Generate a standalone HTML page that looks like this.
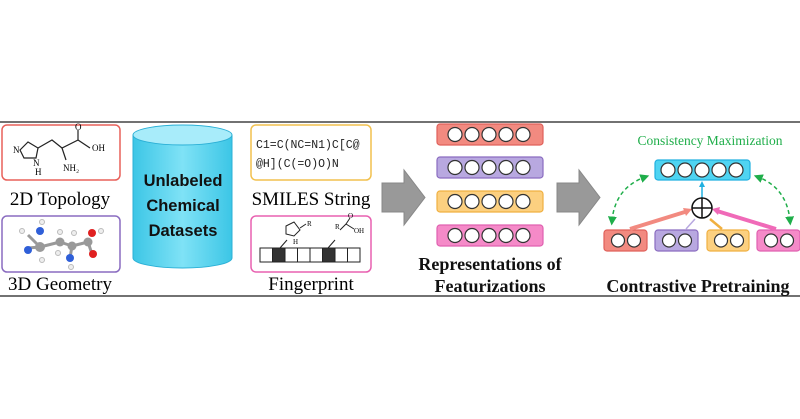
<!DOCTYPE html>
<html><head><meta charset="utf-8"><style>
html,body{margin:0;padding:0;background:#fff;}
svg{display:block;}
.ser{font-family:"Liberation Serif",serif;}
</style></head><body>
<svg width="800" height="419" viewBox="0 0 800 419" xmlns="http://www.w3.org/2000/svg">
<defs>
<linearGradient id="cyl" x1="0" x2="1"><stop offset="0" stop-color="#3cc6e6"/><stop offset="0.5" stop-color="#7fe2f6"/><stop offset="1" stop-color="#3cc6e6"/></linearGradient>
<marker id="ga" markerWidth="6" markerHeight="6" refX="3" refY="3" orient="auto"><path d="M0,0 L6,3 L0,6 z" fill="#1fae4a"/></marker>
<marker id="ga2" markerWidth="6" markerHeight="6" refX="3" refY="3" orient="auto-start-reverse"><path d="M0,0 L6,3 L0,6 z" fill="#1fae4a"/></marker>
</defs>
<line x1="0" y1="122" x2="800" y2="122" stroke="#444" stroke-width="1.5"/>
<line x1="0" y1="296" x2="800" y2="296" stroke="#444" stroke-width="1.5"/>

<!-- 2D box -->
<rect x="2" y="125" width="118" height="55" rx="5" fill="#fff" stroke="#e8605a" stroke-width="1.5"/>
<g stroke="#222" stroke-width="1.2" fill="none">
<path d="M20,150 L28,142 L38,148 L36,158 L24,158 z"/>
<path d="M38,148 L52,140 L62,148 L78,140 L78,130"/>
<path d="M78,140 L90,148"/>
<path d="M62,148 L66,160"/>
</g>
<text x="13" y="153" class="ser" font-size="9">N</text>
<text x="33" y="166" class="ser" font-size="9">N</text>
<text x="35" y="175" class="ser" font-size="9">H</text>
<text x="75" y="130" class="ser" font-size="9">O</text>
<text x="92" y="151" class="ser" font-size="9">OH</text>
<text x="63" y="171" class="ser" font-size="9">NH₂</text>
<text x="60" y="205" class="ser" font-size="19" text-anchor="middle">2D Topology</text>

<!-- 3D box -->
<rect x="2" y="216" width="118" height="56" rx="5" fill="#fff" stroke="#8a6cc0" stroke-width="1.5"/>
<g stroke="#999" stroke-width="3">
<line x1="28" y1="235" x2="40" y2="247"/><line x1="28" y1="248" x2="40" y2="247"/>
<line x1="40" y1="247" x2="60" y2="242"/><line x1="60" y1="242" x2="72" y2="246"/>
<line x1="72" y1="246" x2="88" y2="242"/><line x1="88" y1="242" x2="92" y2="254"/>
<line x1="72" y1="246" x2="70" y2="258"/>
</g>
<circle cx="40" cy="231" r="4" fill="#2f5fd8"/><circle cx="28" cy="250" r="4" fill="#2f5fd8"/>
<circle cx="40" cy="247" r="5" fill="#999"/><circle cx="60" cy="242" r="4.5" fill="#999"/>
<circle cx="72" cy="246" r="4.5" fill="#999"/><circle cx="88" cy="242" r="4.5" fill="#999"/>
<circle cx="92" cy="233" r="4" fill="#e02020"/><circle cx="93" cy="254" r="4" fill="#e02020"/>
<circle cx="70" cy="258" r="4" fill="#2f5fd8"/>
<circle cx="22" cy="231" r="2.5" fill="#eee" stroke="#bbb"/><circle cx="42" cy="222" r="2.5" fill="#eee" stroke="#bbb"/>
<circle cx="60" cy="232" r="2.5" fill="#eee" stroke="#bbb"/><circle cx="74" cy="233" r="2.5" fill="#eee" stroke="#bbb"/>
<circle cx="101" cy="231" r="2.5" fill="#eee" stroke="#bbb"/><circle cx="71" cy="267" r="2.5" fill="#eee" stroke="#bbb"/>
<circle cx="42" cy="260" r="2.5" fill="#eee" stroke="#bbb"/><circle cx="58" cy="253" r="2.5" fill="#eee" stroke="#bbb"/>
<text x="60" y="290" class="ser" font-size="19" text-anchor="middle">3D Geometry</text>

<!-- cylinder -->
<path d="M133,135 L133,258 A49.5,10 0 0 0 232,258 L232,135" fill="url(#cyl)" stroke="#2bb0d6" stroke-width="1"/>
<ellipse cx="182.5" cy="135" rx="49.5" ry="10" fill="#a8ecfa" stroke="#2bb0d6" stroke-width="1"/>
<g font-family="Liberation Sans,sans-serif" font-weight="bold" font-size="16.5" fill="#111" text-anchor="middle">
<text x="183" y="186">Unlabeled</text><text x="183" y="211">Chemical</text><text x="183" y="236">Datasets</text>
</g>

<!-- SMILES -->
<rect x="251" y="125" width="120" height="55" rx="5" fill="#fff" stroke="#f2c14e" stroke-width="1.5"/>
<g font-family="Liberation Mono,monospace" font-size="11.5" fill="#222">
<text x="256" y="148">C1=C(NC=N1)C[C@</text><text x="256" y="167">@H](C(=O)O)N</text>
</g>
<text x="311" y="205" class="ser" font-size="19" text-anchor="middle">SMILES String</text>

<!-- Fingerprint -->
<rect x="251" y="216" width="120" height="56" rx="5" fill="#fff" stroke="#e860b0" stroke-width="1.5"/>
<g stroke="#222" stroke-width="1" fill="none">
<path d="M286,226 L294,222 L300,230 L294,236 L286,234 z"/><line x1="300" y1="228" x2="306" y2="224"/>
<path d="M340,230 L346,224 L350,218 M346,224 L354,229"/>
<line x1="280" y1="248" x2="287" y2="240"/><line x1="328" y1="248" x2="335" y2="240"/>
</g>
<text x="307" y="226" class="ser" font-size="7">R</text>
<text x="293" y="244" class="ser" font-size="7">H</text>
<text x="335" y="229" class="ser" font-size="7">R</text>
<text x="348" y="218" class="ser" font-size="7">O</text>
<text x="354" y="233" class="ser" font-size="7">OH</text>
<g stroke="#222" stroke-width="1">
<rect x="260" y="248" width="12.5" height="14" fill="#fff"/><rect x="272.5" y="248" width="12.5" height="14" fill="#333"/>
<rect x="285" y="248" width="12.5" height="14" fill="#fff"/><rect x="297.5" y="248" width="12.5" height="14" fill="#fff"/>
<rect x="310" y="248" width="12.5" height="14" fill="#fff"/><rect x="322.5" y="248" width="12.5" height="14" fill="#333"/>
<rect x="335" y="248" width="12.5" height="14" fill="#fff"/><rect x="347.5" y="248" width="12.5" height="14" fill="#fff"/>
</g>
<text x="311" y="290" class="ser" font-size="19" text-anchor="middle">Fingerprint</text>

<!-- big arrows -->
<path d="M382,183 L404,183 L404,170 L425,197.5 L404,225 L404,212 L382,212 z" fill="#999" stroke="#888"/>
<path d="M557,183 L579,183 L579,170 L600,197.5 L579,225 L579,212 L557,212 z" fill="#999" stroke="#888"/>

<!-- representation bars -->
<g stroke-width="1.2">
<rect x="437" y="124" width="106" height="21" rx="3" fill="#f28a80" stroke="#e0605a"/>
<rect x="437" y="157" width="106" height="21" rx="3" fill="#b8a8e0" stroke="#8a6cc0"/>
<rect x="437" y="191" width="106" height="21" rx="3" fill="#fcd080" stroke="#f0b040"/>
<rect x="437" y="225" width="106" height="21" rx="3" fill="#f58ac8" stroke="#e060b0"/>
</g>
<g fill="#fff" stroke="#333" stroke-width="1.2">
<circle cx="455" cy="134.5" r="7"/><circle cx="472" cy="134.5" r="7"/><circle cx="489" cy="134.5" r="7"/><circle cx="506" cy="134.5" r="7"/><circle cx="523" cy="134.5" r="7"/>
<circle cx="455" cy="167.5" r="7"/><circle cx="472" cy="167.5" r="7"/><circle cx="489" cy="167.5" r="7"/><circle cx="506" cy="167.5" r="7"/><circle cx="523" cy="167.5" r="7"/>
<circle cx="455" cy="201.5" r="7"/><circle cx="472" cy="201.5" r="7"/><circle cx="489" cy="201.5" r="7"/><circle cx="506" cy="201.5" r="7"/><circle cx="523" cy="201.5" r="7"/>
<circle cx="455" cy="235.5" r="7"/><circle cx="472" cy="235.5" r="7"/><circle cx="489" cy="235.5" r="7"/><circle cx="506" cy="235.5" r="7"/><circle cx="523" cy="235.5" r="7"/>
</g>
<g class="ser" font-size="18" font-weight="bold" text-anchor="middle" fill="#111">
<text x="490" y="270">Representations of</text><text x="490" y="292">Featurizations</text>
</g>

<!-- contrastive -->
<text x="710" y="145" class="ser" font-size="13.5" fill="#1fae4a" text-anchor="middle">Consistency Maximization</text>
<rect x="655" y="160" width="95" height="20" rx="3" fill="#4fd4f2" stroke="#20b0e0" stroke-width="1.2"/>
<g fill="#fff" stroke="#333" stroke-width="1.2">
<circle cx="668" cy="170" r="7"/><circle cx="685" cy="170" r="7"/><circle cx="702" cy="170" r="7"/><circle cx="719" cy="170" r="7"/><circle cx="736" cy="170" r="7"/>
</g>
<g stroke-width="1.2">
<rect x="604" y="230" width="43" height="21" rx="3" fill="#f28a80" stroke="#e0605a"/>
<rect x="655" y="230" width="43" height="21" rx="3" fill="#b8a8e0" stroke="#8a6cc0"/>
<rect x="707" y="230" width="42" height="21" rx="3" fill="#fcd080" stroke="#f0b040"/>
<rect x="757" y="230" width="43" height="21" rx="3" fill="#f58ac8" stroke="#e060b0"/>
</g>
<g fill="#fff" stroke="#333" stroke-width="1.2">
<circle cx="618" cy="240.5" r="6.5"/><circle cx="634" cy="240.5" r="6.5"/>
<circle cx="669" cy="240.5" r="6.5"/><circle cx="685" cy="240.5" r="6.5"/>
<circle cx="721" cy="240.5" r="6.5"/><circle cx="737" cy="240.5" r="6.5"/>
<circle cx="771" cy="240.5" r="6.5"/><circle cx="787" cy="240.5" r="6.5"/>
</g>
<!-- arrows into oplus -->
<line x1="630" y1="229" x2="688" y2="211" stroke="#f28a80" stroke-width="4"/>
<path d="M692,209 L683,208 L686,216 z" fill="#f28a80"/>
<line x1="686" y1="229" x2="695" y2="219" stroke="#b8a8e0" stroke-width="1.5"/>
<line x1="722" y1="229" x2="710" y2="219" stroke="#f0b040" stroke-width="2.5"/>
<line x1="776" y1="229" x2="717" y2="211" stroke="#f06ab8" stroke-width="4"/>
<path d="M712,209 L720,207 L718,215 z" fill="#f06ab8"/>
<line x1="702" y1="198" x2="702" y2="184" stroke="#20b0e0" stroke-width="1.5"/>
<path d="M702,181 L699,187 L705,187 z" fill="#20b0e0"/>
<circle cx="702" cy="208" r="10" fill="#fff" stroke="#111" stroke-width="1.5"/>
<line x1="692" y1="208" x2="712" y2="208" stroke="#111" stroke-width="1.5"/>
<line x1="702" y1="198" x2="702" y2="218" stroke="#111" stroke-width="1.5"/>
<!-- dashed arcs -->
<path d="M612,221 Q615,188 645,177" fill="none" stroke="#1fae4a" stroke-width="1.5" stroke-dasharray="4,3" marker-start="url(#ga2)" marker-end="url(#ga)"/>
<path d="M790,221 Q787,188 758,177" fill="none" stroke="#1fae4a" stroke-width="1.5" stroke-dasharray="4,3" marker-start="url(#ga2)" marker-end="url(#ga)"/>
<text x="698" y="292" class="ser" font-size="18" font-weight="bold" text-anchor="middle" fill="#111">Contrastive Pretraining</text>
</svg>
</body></html>
